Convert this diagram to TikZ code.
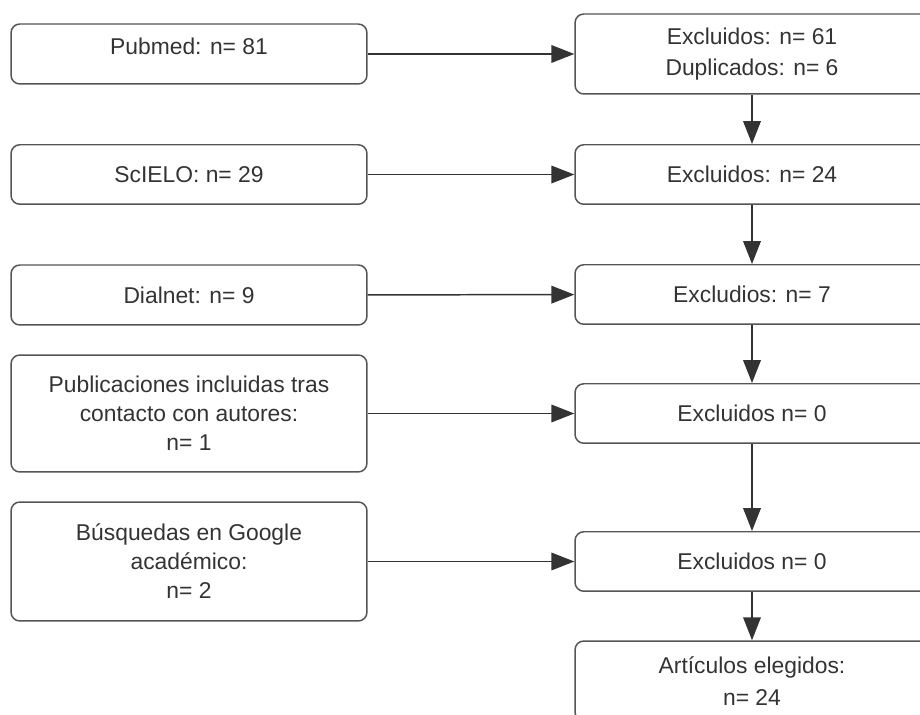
\documentclass[tikz,border=0pt]{standalone}
\usepackage{fontspec}
\setmainfont{Liberation Sans}
\usetikzlibrary{arrows.meta}
\definecolor{linegray}{HTML}{555555}
\definecolor{textgray}{HTML}{333333}

\begin{document}
\begin{tikzpicture}[x=0.02cm,y=-0.02cm,
    box/.style={draw=linegray, line width=0.85pt, rounded corners=5pt, align=center,
      text=textgray, font=\fontsize{13}{18}\selectfont, inner sep=0pt},
    src/.style={box, minimum width=7.12cm},
    res/.style={box, minimum width=7.08cm},
    flow/.style={-{Triangle[length=13pt,width=10pt]}, draw=textgray, line width=0.85pt}]
      \clip (0,0) rectangle (920,715);
      \draw
        (189,54) node[src, minimum height=1.2cm, text depth=9pt] (pubmed){Pubmed: n= 81}
        (189,174.5) node[src, minimum height=1.19cm] (scielo){ScIELO: n= 29}
        (189,295) node[src, minimum height=1.2cm] (dialnet){Dialnet: n= 9}
        (189,413.5) node[src, minimum height=2.34cm, font=\fontsize{13}{16.5}\selectfont] (autores){Publicaciones incluidas tras\\contacto con autores:\\n= 1}
        (189,561.5) node[src, minimum height=2.38cm, font=\fontsize{13}{16.5}\selectfont] (google){Búsquedas en Google\\académico:\\n= 2};
      \draw
        (752,54) node[res, minimum height=1.6cm] (ex1){Excluidos: n= 61\\Duplicados: n= 6}
        (752,174.5) node[res, minimum height=1.19cm] (ex2){Excluidos: n= 24}
        (752,294.5) node[res, minimum height=1.19cm] (ex3){Excludios: n= 7}
        (752,413.5) node[res, minimum height=1.19cm] (ex4){Excluidos n= 0}
        (752,561.5) node[res, minimum height=1.19cm] (ex5){Excluidos n= 0}
        (752,681) node[res, minimum height=1.6cm] (final){Artículos elegidos:\\n= 24};
      \begin{scope}[flow]
        \draw (pubmed) to (ex1);
        \draw (scielo) to (ex2);
        \draw (dialnet) to (ex3);
        \draw (autores) to (ex4);
        \draw (google) to (ex5);
        \draw (ex1) to (ex2);
        \draw (ex2) to (ex3);
        \draw (ex3) to (ex4);
        \draw (ex4) to (ex5);
        \draw (ex5) to (final);
      \end{scope}
    \end{tikzpicture}
\end{document}
